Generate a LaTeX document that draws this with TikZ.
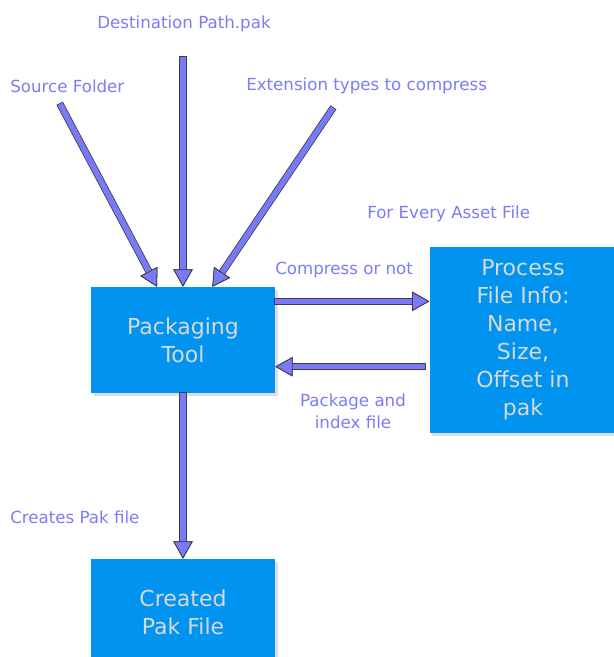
\documentclass[tikz,border=0pt]{standalone}
\usepackage{fontspec}
\setmainfont{DejaVu Sans}
\usetikzlibrary{arrows.meta,shadows}

\definecolor{boxblue}{RGB}{0,148,240}
\definecolor{boxtext}{RGB}{216,216,216}
\definecolor{labelblue}{RGB}{124,124,246}
\definecolor{arrowfill}{RGB}{122,122,246}
\definecolor{arrowedge}{RGB}{60,60,72}

\tikzset{
  stagebox/.style={fill=boxblue, text=boxtext, align=center, inner sep=0pt,
    font=\fontsize{16.5}{21}\selectfont,
    drop shadow={opacity=0.25, shadow xshift=2pt, shadow yshift=-2pt}},
  note/.style={text=labelblue, inner sep=0pt, font=\fontsize{12.5}{16.5}\selectfont},
  fat/.style={line width=4.2pt, draw=arrowfill,
    -{Triangle[length=13pt, width=14.5pt, fill=arrowfill, color=arrowedge, line width=0.6pt]},
    preaction={draw=arrowedge, line width=5.4pt, shorten <=-0.6pt}},
}

\begin{document}
\begin{tikzpicture}[x=0.75pt, y=-0.75pt]
\clip (0,0) rectangle (614,657);
\fill[white] (0,0) rectangle (614,657);

% boxes:
\node[stagebox, minimum width=138pt, minimum height=79.5pt] (pack) at (183,340) {Packaging\\Tool};
\node[stagebox, minimum width=140pt, minimum height=139.5pt] (proc) at (523,340) {Process\\File Info:\\Name,\\Size,\\Offset in\\pak};
\node[stagebox, minimum width=138pt, minimum height=79.5pt] (made) at (183,612) {Created\\Pak File};

% inputs:
\node[note] (dest) at (184,24) {Destination Path.pak};
\node[note, anchor=west] (src) at (10,86) {Source Folder};
\node[note, anchor=west] (ext) at (246,86) {Extension types to compress};

\coordinate (destA) at (183,57);
\coordinate (srcA) at (60,104);
\coordinate (extA) at (333,108);

\draw[fat] (srcA) -- ([xshift=-19.5pt]pack.north);
\draw[fat] (destA) -- (pack.north);
\draw[fat] (extA) -- ([xshift=22pt]pack.north);

% loop over asset files:
\node[note, anchor=west] (every) at (367,214) {For Every Asset File};
\node[note, anchor=west] (comp) at (275,270) {Compress or not};
\node[note, align=center] (back) at (353,411) {Package and\\index file};

\draw[fat] ([yshift=29pt]pack.east) -- ([yshift=29pt]pack.east -| proc.west);
\draw[fat] ([yshift=-20pt,xshift=-3pt]proc.west) -- ([yshift=-20pt]pack.east);

% output:
\node[note, anchor=west] (creates) at (10,517) {Creates Pak file};
\draw[fat] (pack.south) -- (made.north);

\end{tikzpicture}
\end{document}
